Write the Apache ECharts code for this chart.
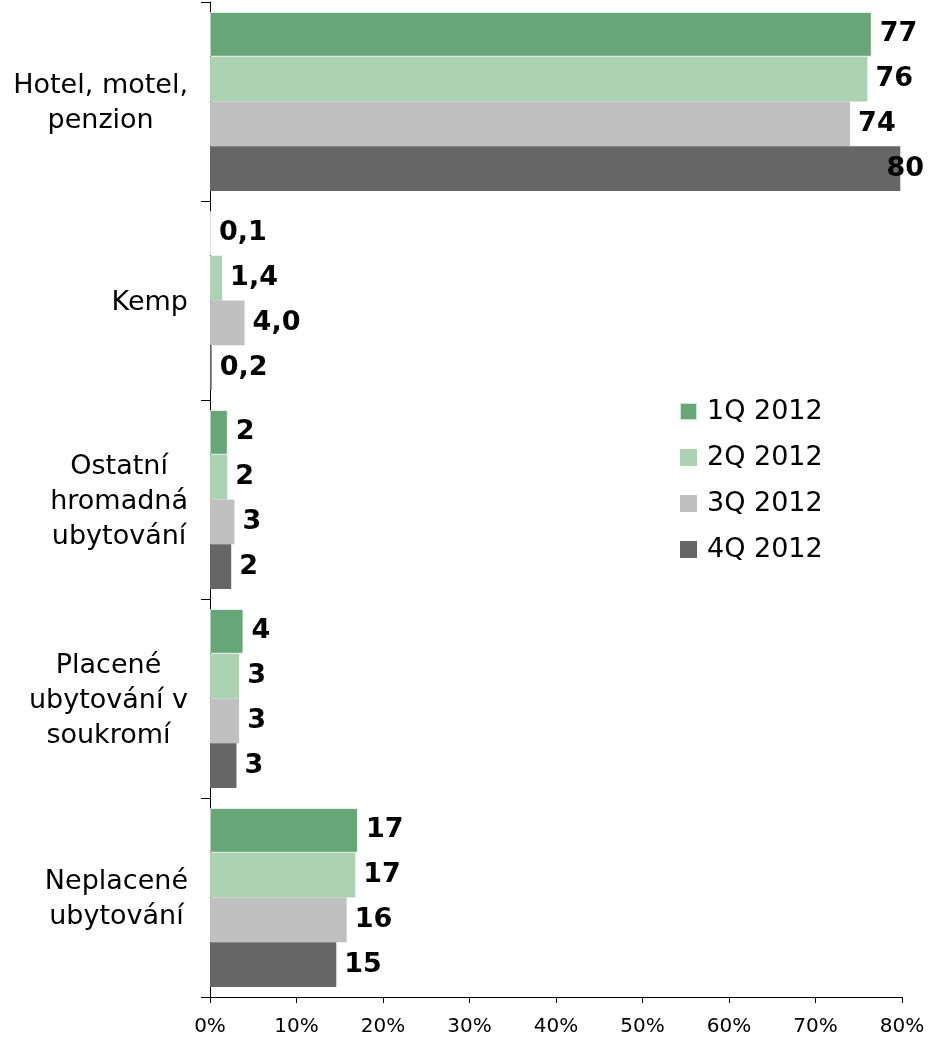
<!DOCTYPE html>
<html>
<head>
<meta charset="utf-8">
<script src="https://cdn.jsdelivr.net/npm/echarts@6/dist/echarts.min.js"></script>
<style>
html,body{margin:0;padding:0;background:#fff;}
#c{width:928px;height:1037px;}
</style>
</head>
<body>
<div id="c"></div>
<script>
const categories = ['Hotel, motel,\npenzion', 'Kemp', 'Ostatní\nhromadná\nubytování', 'Placené\nubytování v\nsoukromí', 'Neplacené\nubytování'];
const seriesNames = ['1Q 2012', '2Q 2012', '3Q 2012', '4Q 2012'];
const q1 = [76.5, 0.1, 2.05, 3.87, 17.1];
const q2 = [76.0, 1.4, 2.0, 3.37, 16.8];
const q3 = [74.0, 4.0, 2.83, 3.37, 15.8];
const q4 = [79.8, 0.2, 2.45, 3.06, 14.6];
const xTicks = [0, 10, 20, 30, 40, 50, 60, 70, 80];
const oneDecimalCategories = ['Kemp'];

const colors = ['#67A677', '#ADD2B1', '#C0C0C0', '#666666'];
const seriesData = [q1, q2, q3, q4];

const chart = echarts.init(document.getElementById('c'), null, {renderer: 'canvas'});

function fmtLabel(p) {
  if (oneDecimalCategories.indexOf(p.name) >= 0) {
    return p.value.toFixed(1).replace('.', ',');
  }
  return String(Math.round(p.value));
}

const CANVAS_W = 928;

const series = seriesNames.map((name, i) => ({
  name: name,
  type: 'bar',
  data: seriesData[i],
  barGap: '0%',
  barCategoryGap: '10%',
  itemStyle: {
    color: colors[i],
    borderColor: i === 0 ? 'rgba(255,255,255,0.7)' : colors[i],
    borderWidth: i === 0 ? 1 : 0
  },
  label: {
    show: true,
    position: 'right',
    distance: 8,
    formatter: fmtLabel,
    fontFamily: 'DejaVu Sans',
    fontWeight: 'bold',
    fontSize: 27,
    color: '#000'
  },
  labelLayout: function (params) {
    const r = params.labelRect;
    const over = r.x + r.width - (CANVAS_W - 4);
    if (over > 0) {
      return {dx: -over};
    }
    return {};
  },
  animation: false
}));

const option = {
  animation: false,
  backgroundColor: '#fff',
  textStyle: {fontFamily: 'DejaVu Sans'},
  grid: {left: 210, right: 26, top: 2, bottom: 40, containLabel: false},
  legend: {
    orient: 'vertical',
    left: 674,
    top: 393,
    itemWidth: 17,
    itemHeight: 17,
    itemGap: 19,
    icon: 'rect',
    data: seriesNames,
    textStyle: {fontFamily: 'DejaVu Sans', fontSize: 27, color: '#000', padding: [0, 0, 0, 5]}
  },
  xAxis: {
    type: 'value',
    min: xTicks[0],
    max: xTicks[xTicks.length - 1],
    interval: xTicks[1] - xTicks[0],
    axisLine: {show: true, lineStyle: {color: '#000', width: 1}},
    axisTick: {show: true, length: 6, lineStyle: {color: '#000'}},
    splitLine: {show: false},
    axisLabel: {
      formatter: '{value}%',
      fontFamily: 'DejaVu Sans',
      fontSize: 20,
      color: '#000',
      margin: 20
    }
  },
  yAxis: {
    type: 'category',
    inverse: true,
    data: categories,
    axisLine: {show: true, lineStyle: {color: '#000', width: 1}},
    axisTick: {show: true, length: 9, lineStyle: {color: '#000'}},
    axisLabel: {
      margin: 22,
      align: 'right',
      padding: [4, 0, 0, 0],
      formatter: function (v) {
        return v.split('\n').map(s => '{c|' + s + '}').join('\n');
      },
      rich: {
        c: {align: 'center', fontFamily: 'DejaVu Sans', fontSize: 27, color: '#000', lineHeight: 35}
      }
    }
  },
  series: series
};

chart.setOption(option);
</script>
</body>
</html>
